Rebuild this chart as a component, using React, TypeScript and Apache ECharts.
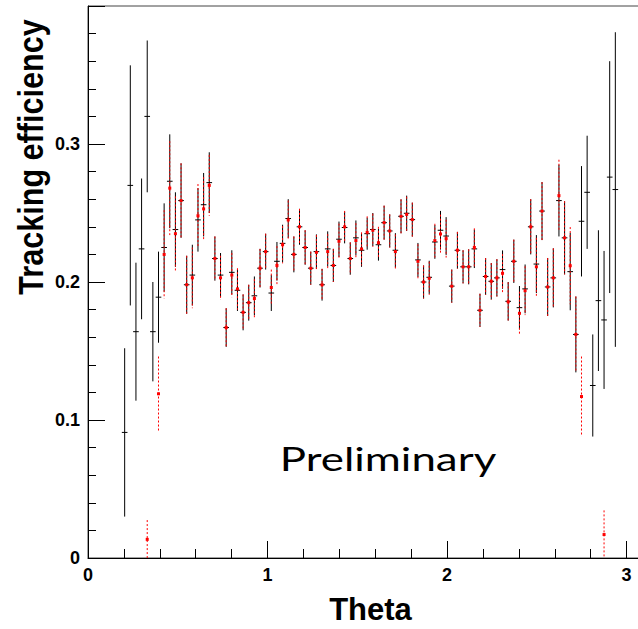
import React, { useEffect, useRef } from 'react'
import * as echarts from 'echarts'

// 100 bins over [0, pi]; values listed from bin 6 to bin 93
const BIN_COUNT = 100
const THETA_MAX = Math.PI
const FIRST_BIN = 6

const blackEff = [
  0.091, 0.270, 0.164, 0.224, 0.320, 0.164, 0.189, 0.225, 0.273, 0.238,
  0.259, 0.198, 0.205, 0.245, 0.256, 0.272, 0.217, 0.205, 0.167, 0.207,
  0.194, 0.178, 0.185, 0.190, 0.210, 0.222, 0.192, 0.215, 0.228, 0.246,
  0.220, 0.240, 0.225, 0.210, 0.222, 0.198, 0.224, 0.212, 0.231, 0.2395,
  0.217, 0.232, 0.223, 0.235, 0.238, 0.227, 0.243, 0.237, 0.223, 0.2476,
  0.2498, 0.2452, 0.216, 0.200, 0.2034, 0.229, 0.2375, 0.2333, 0.197, 0.223,
  0.211, 0.211, 0.224, 0.1795, 0.204, 0.2005, 0.203, 0.209, 0.186, 0.215,
  0.1814, 0.195, 0.240, 0.213, 0.2514, 0.1964, 0.203, 0.259, 0.232, 0.2075,
  0.162, 0.244, 0.265, 0.125, 0.1865, 0.1725, 0.276, 0.267,
]
const blackErr = [
  0.061, 0.087, 0.050, 0.051, 0.055, 0.036, 0.033, 0.032, 0.034, 0.027,
  0.027, 0.021, 0.022, 0.023, 0.023, 0.022, 0.016, 0.016, 0.014, 0.016,
  0.015, 0.013, 0.013, 0.014, 0.014, 0.013, 0.013, 0.014, 0.0135, 0.014,
  0.013, 0.013, 0.0125, 0.012, 0.0125, 0.0115, 0.0127, 0.012, 0.0128, 0.0115,
  0.0117, 0.0126, 0.012, 0.0116, 0.012, 0.0115, 0.0123, 0.012, 0.0124, 0.0123,
  0.0128, 0.0123, 0.0123, 0.012, 0.012, 0.0122, 0.014, 0.0137, 0.012, 0.0133,
  0.012, 0.0127, 0.0139, 0.012, 0.0133, 0.0132, 0.0135, 0.0139, 0.014, 0.0157,
  0.0157, 0.0177, 0.020, 0.021, 0.021, 0.021, 0.0214, 0.026, 0.0265, 0.028,
  0.0275, 0.040, 0.041, 0.037, 0.051, 0.050, 0.084, 0.114,
]
const redEff = [
  null, null, null, null, 0.0135, null, 0.119, 0.220, 0.268, 0.235,
  0.259, 0.198, 0.203, 0.248, 0.253, 0.270, 0.217, 0.203, 0.167, 0.205,
  0.195, 0.178, 0.185, 0.188, 0.210, 0.222, 0.196, 0.212, 0.227, 0.245,
  0.220, 0.240, 0.225, 0.210, 0.2215, 0.198, 0.222, 0.212, 0.2295, 0.240,
  0.217, 0.230, 0.224, 0.236, 0.2375, 0.2285, 0.243, 0.237, 0.222, 0.2476,
  0.249, 0.2452, 0.215, 0.200, 0.2027, 0.230, 0.2348, 0.2314, 0.197, 0.223,
  0.211, 0.211, 0.225, 0.1795, 0.204, 0.2005, 0.203, 0.2063, 0.1857, 0.215,
  0.1773, 0.1937, 0.240, 0.211, 0.2514, 0.1964, 0.203, 0.2626, 0.232, 0.2118,
  0.162, 0.117, null, null, null, 0.017, null, null,
]
const redErr = [
  0, 0, 0, 0, 0.014, 0, 0.027, 0.032, 0.034, 0.027,
  0.027, 0.021, 0.022, 0.023, 0.023, 0.022, 0.016, 0.016, 0.014, 0.016,
  0.015, 0.013, 0.013, 0.014, 0.014, 0.013, 0.013, 0.014, 0.0135, 0.014,
  0.013, 0.013, 0.0125, 0.012, 0.0125, 0.0115, 0.0127, 0.012, 0.0128, 0.0115,
  0.0117, 0.0126, 0.012, 0.0116, 0.012, 0.0115, 0.0123, 0.012, 0.0124, 0.0123,
  0.0128, 0.0123, 0.0123, 0.012, 0.012, 0.0122, 0.014, 0.0137, 0.012, 0.0133,
  0.012, 0.0127, 0.0139, 0.012, 0.0133, 0.0132, 0.0135, 0.0139, 0.014, 0.0157,
  0.0157, 0.0177, 0.020, 0.021, 0.021, 0.021, 0.0214, 0.026, 0.0265, 0.028,
  0.0275, 0.029, 0, 0, 0, 0.0175, 0, 0,
]

const BIN_W = THETA_MAX / BIN_COUNT
const binCenter = (k: number) => (FIRST_BIN + k + 0.5) * BIN_W

export default function App() {
  const ref = useRef<HTMLDivElement | null>(null)

  useEffect(() => {
    if (!ref.current) return
    const chart = echarts.init(ref.current, null, { renderer: 'svg' })

    const blackData = blackEff.map((v, k) => [binCenter(k), v, blackErr[k]])
    const redData: number[][] = []
    redEff.forEach((v, k) => { if (v != null) redData.push([binCenter(k), v, redErr[k]]) })

    const labelFont = { color: '#000', fontWeight: 'bold', fontSize: 18, fontFamily: '"Liberation Sans", Arial, sans-serif' }

    chart.setOption({
      animation: false,
      grid: { left: 88, top: 6, width: 564, height: 552, show: true, borderColor: '#444', borderWidth: 1 },
      xAxis: {
        type: 'value', min: 0, max: THETA_MAX, interval: 1,
        axisLine: { lineStyle: { color: '#000' } },
        axisTick: { inside: true, length: 17, lineStyle: { color: '#000' } },
        minorTick: { show: true, splitNumber: 5, length: 9, lineStyle: { color: '#000' } },
        splitLine: { show: false },
        axisLabel: { ...labelFont, margin: 8, showMaxLabel: false, formatter: (v: number) => String(Math.round(v)) },
      },
      yAxis: {
        type: 'value', min: 0, max: 0.4, interval: 0.1,
        axisLine: { lineStyle: { color: '#000' } },
        axisTick: { inside: true, length: 17, lineStyle: { color: '#000' } },
        minorTick: { show: true, splitNumber: 5, length: 8, lineStyle: { color: '#000' } },
        splitLine: { show: false },
        axisLabel: { ...labelFont, margin: 8, showMaxLabel: false, formatter: (v: number) => v === 0 ? '0' : v.toFixed(1) },
      },
      graphic: [
        {
          type: 'text', x: 31, y: 157, rotation: Math.PI / 2, scaleX: 0.85,
          style: { text: 'Tracking efficiency', fill: '#000', font: 'bold 36px "Liberation Sans", Arial, sans-serif', textAlign: 'center', textVerticalAlign: 'middle', align: 'center', verticalAlign: 'middle' },
        },
        {
          type: 'text', x: 370.5, y: 609,
          style: { text: 'Theta', fill: '#000', font: 'bold 31px "Liberation Sans", Arial, sans-serif', textAlign: 'center', textVerticalAlign: 'middle', align: 'center', verticalAlign: 'middle' },
        },
        {
          type: 'text', x: 388, y: 458, scaleX: 1.33,
          style: { text: 'Preliminary', fill: '#000', font: '33px Lato, sans-serif', textAlign: 'center', textVerticalAlign: 'middle', align: 'center', verticalAlign: 'middle' },
        },
      ],
      series: [
        {
          type: 'custom', name: 'all', clip: true, data: blackData,
          renderItem: (params: any, api: any) => {
            const x = api.value(0), y = api.value(1), e = api.value(2)
            const top = api.coord([x, y + e]), bot = api.coord([x, y - e])
            const l = api.coord([x - BIN_W / 2, y]), r = api.coord([x + BIN_W / 2, y])
            return {
              type: 'group',
              children: [
                { type: 'line', shape: { x1: top[0], y1: top[1], x2: bot[0], y2: bot[1] }, style: { stroke: '#000', lineWidth: 1 } },
                { type: 'line', shape: { x1: l[0], y1: l[1], x2: r[0], y2: r[1] }, style: { stroke: '#000', lineWidth: 1 } },
              ],
            }
          },
        },
        {
          type: 'custom', name: 'matched', clip: true, data: redData,
          renderItem: (params: any, api: any) => {
            const x = api.value(0), y = api.value(1), e = api.value(2)
            const top = api.coord([x, y + e]), bot = api.coord([x, y - e]), c = api.coord([x, y])
            return {
              type: 'group',
              children: [
                { type: 'line', shape: { x1: top[0], y1: top[1], x2: bot[0], y2: bot[1] }, style: { stroke: '#ff0000', lineWidth: 1, lineDash: [2, 2] } },
                { type: 'rect', shape: { x: c[0] - 1.5, y: c[1] - 1.5, width: 3, height: 3 }, style: { fill: '#ff0000' } },
              ],
            }
          },
        },
      ],
    } as any)

    return () => chart.dispose()
  }, [])

  // the plot frame runs past the right edge of the picture, so the chart is wider than the clip box
  return (
    <div style={{ position: 'fixed', left: 0, top: 0, width: 638, height: 629, overflow: 'hidden', background: '#fff' }}>
      <div ref={ref} style={{ width: 670, height: 629 }} />
    </div>
  )
}
